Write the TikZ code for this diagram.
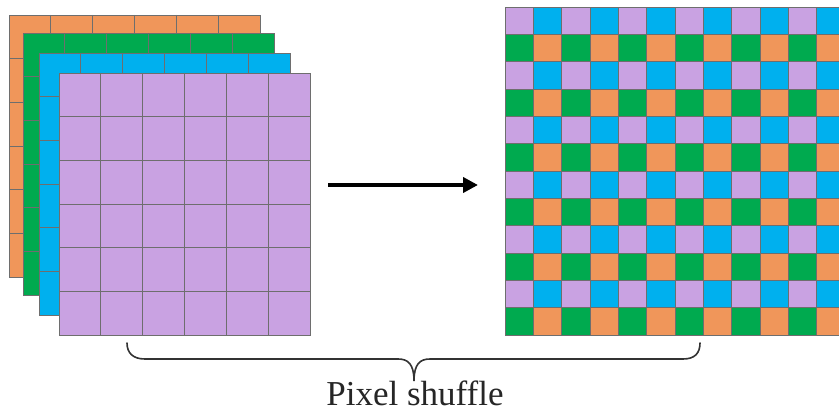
\documentclass[tikz,border=0pt]{standalone}
\usepackage{fontspec}
\setmainfont{Liberation Serif}
\usetikzlibrary{arrows.meta}

\definecolor{cOrange}{HTML}{F0965A}
\definecolor{cGreen}{HTML}{00AA4F}
\definecolor{cBlue}{HTML}{00B0EE}
\definecolor{cPurple}{HTML}{C9A2E2}
\definecolor{cLine}{HTML}{6E6E6E}
% colour of an output cell, indexed by 2*(row mod 2) + (column mod 2)
\colorlet{px0}{cPurple}
\colorlet{px1}{cBlue}
\colorlet{px2}{cGreen}
\colorlet{px3}{cOrange}

\tikzset{
  gridline/.style={draw=cLine, line width=0.9pt},
  flowarrow/.style={line width=4pt, -{Triangle[length=15pt,width=15pt]}},
  bracepath/.style={draw=black!80, line width=1.6pt, line cap=round},
  caption/.style={font=\fontsize{35}{40}\selectfont, text=black!85, inner sep=0pt, anchor=base}
}

\begin{document}
\begin{tikzpicture}[x=1pt, y=-1pt]
  \useasboundingbox (0,0) rectangle (839,414);
  \fill[white] (0,0) rectangle (839,414);

  % input feature maps: four stacked 6x6 channels, back to front
  \foreach \lx/\ly/\lc in {9/15/cOrange, 23/33/cGreen, 39/53/cBlue, 59/73/cPurple}{
    \fill[\lc] (\lx,\ly) rectangle ++(251,262);
    \foreach \i in {1,...,5}{
      \draw[gridline] (\lx+\i*41.83,\ly) -- ++(0,262);
      \draw[gridline] (\lx,\ly+\i*43.67) -- ++(251,0);
    }
    \draw[gridline] (\lx,\ly) rectangle ++(251,262);
  }
  \node[inner sep=0pt, minimum width=251pt, minimum height=262pt, anchor=north west]
    (inmap) at (59,73) {};

  % output map: 12x12 interleaved pixels
  \foreach \r in {0,...,11}{
    \foreach \c in {0,...,11}{
      \pgfmathtruncatemacro\k{2*mod(\r,2)+mod(\c,2)}
      \filldraw[fill=px\k, gridline] (505+\c*28.33,7+\r*27.33) rectangle ++(28.33,27.33);
    }
  }
  \node[inner sep=0pt, minimum width=340pt, minimum height=328pt, anchor=north west]
    (outmap) at (505,7) {};

  % shuffle arrow
  \coordinate (arrS) at (328,185);
  \coordinate (arrE) at (478,185);
  \draw[flowarrow] (arrS) -- (arrE);

  % brace under both maps
  \coordinate (brL) at (127,343);
  \coordinate (brM) at (414,381);
  \coordinate (brR) at (700,343);
  \draw[bracepath] (brL) .. controls (127,353) and (133,359) .. (145,359)
    -- (398,359) .. controls (408,359) and (414,364) .. (brM)
    .. controls (414,364) and (420,359) .. (430,359)
    -- (683,359) .. controls (695,359) and (700,353) .. (brR);

  \node[caption] (label) at (415,406) {Pixel shuffle};
\end{tikzpicture}
\end{document}
